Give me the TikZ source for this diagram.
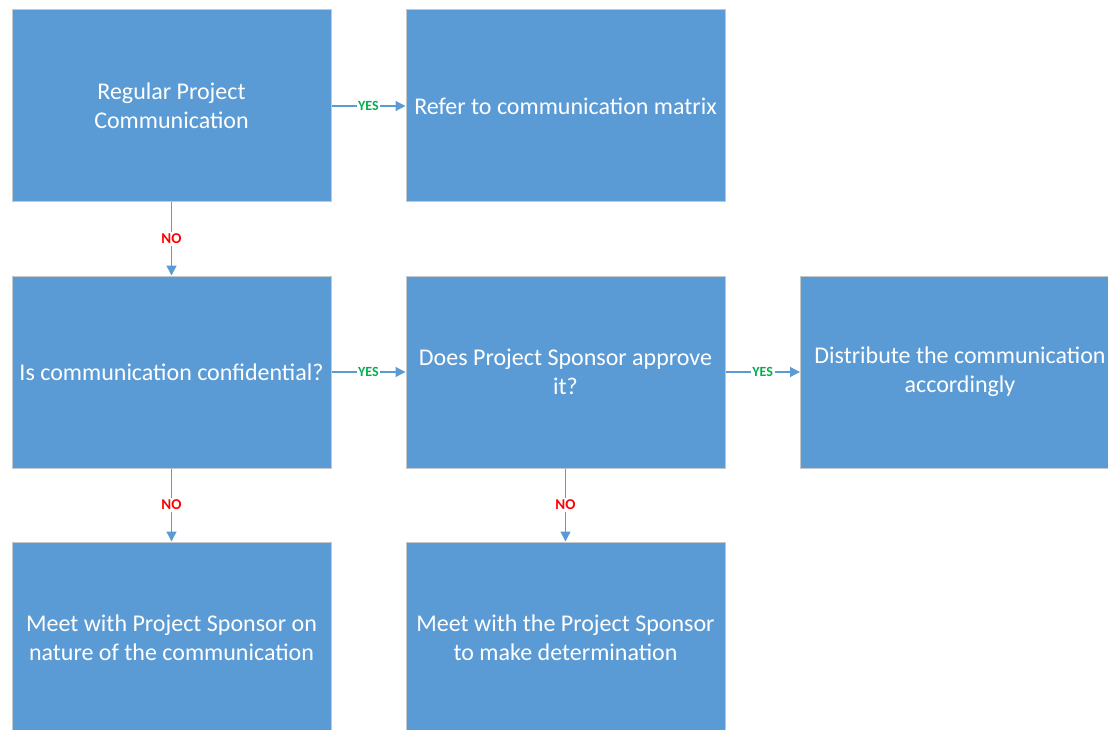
\documentclass[tikz,border=0pt]{standalone}
\usepackage{fontspec}
\setmainfont{Carlito}
\usetikzlibrary{arrows.meta}
\definecolor{boxblue}{HTML}{5B9BD5}
\definecolor{boxedge}{HTML}{C4C8CC}
\definecolor{yesgreen}{HTML}{00B050}
\definecolor{nored}{HTML}{FF0000}
\tikzset{
  stepbox/.style={rectangle, fill=boxblue, draw=boxedge, line width=1pt,
    minimum width=319pt, minimum height=192pt, align=center,
    text=white, font=\fontsize{24}{29}\selectfont, inner sep=0pt},
  flow/.style={draw=boxblue, line width=1.3pt, -{Triangle[length=10pt,width=10pt]}},
  yes/.style={fill=white, text=yesgreen, font=\bfseries\fontsize{14}{15}\selectfont, inner sep=1.5pt},
  no/.style={fill=white, text=nored, font=\bfseries\fontsize{15}{16}\selectfont, inner sep=2pt}
}
\begin{document}
\begin{tikzpicture}[x=1pt, y=-1pt]
\useasboundingbox (0,0) rectangle (1108,730);
\node[stepbox] (reg)  at (171.5,106) {Regular Project\\Communication};
\node[stepbox] (mat)  at (565.5,106) {Refer to communication matrix};
\node[stepbox] (conf) at (171.5,372) {Is communication confidential?};
\node[stepbox] (appr) at (565.5,372) {Does Project Sponsor approve\\it?};
\node[stepbox] (dist) at (960,372) {Distribute the communication\\accordingly};
\node[stepbox] (meet) at (171.5,638) {Meet with Project Sponsor on\\nature of the communication};
\node[stepbox] (det)  at (565.5,638) {Meet with the Project Sponsor\\to make determination};

\draw[flow] (reg.east) -- node[yes]{YES} (mat.west);
\draw[flow] (reg.south) -- node[no]{NO} (conf.north);
\draw[flow] (conf.east) -- node[yes]{YES} (appr.west);
\draw[flow] (appr.east) -- node[yes]{YES} (dist.west);
\draw[flow] (conf.south) -- node[no]{NO} (meet.north);
\draw[flow] (appr.south) -- node[no]{NO} (det.north);
\end{tikzpicture}
\end{document}
